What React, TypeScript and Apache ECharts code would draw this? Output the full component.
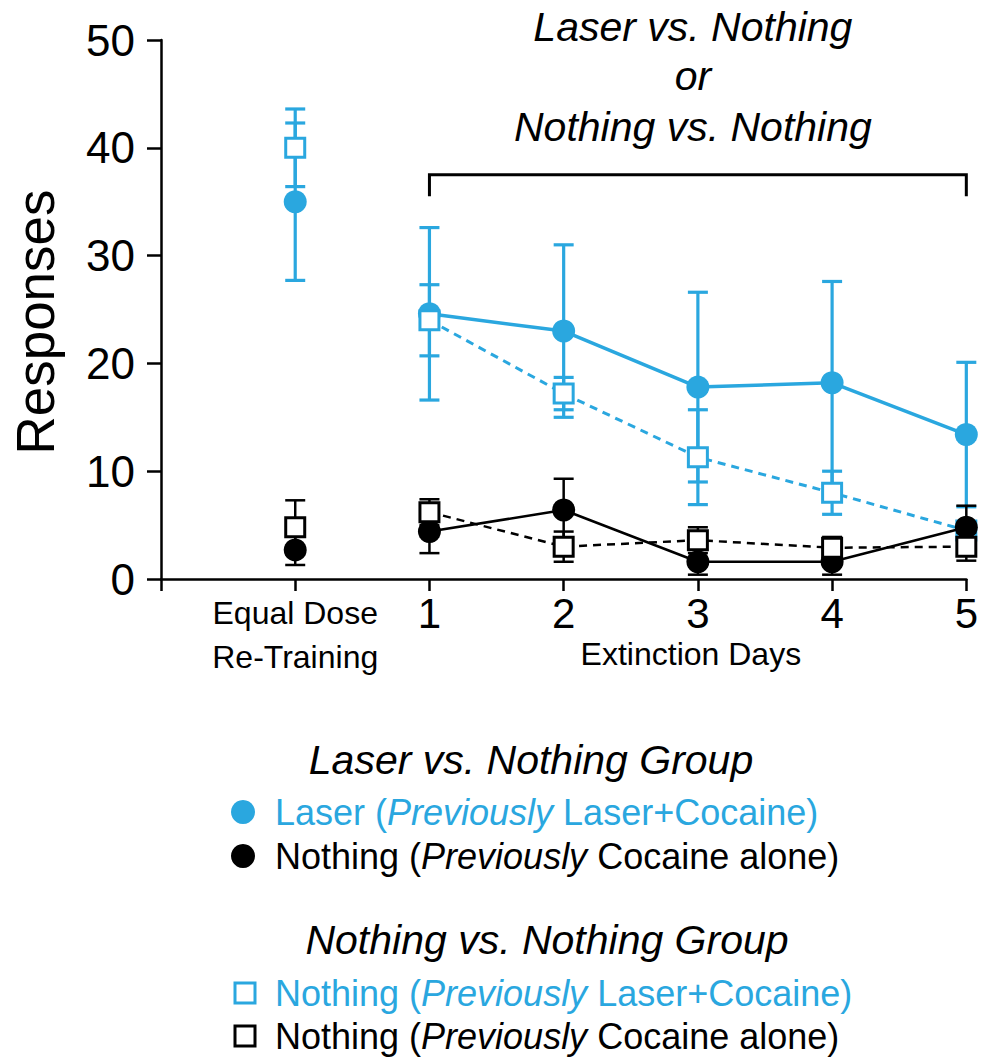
import React, { useEffect, useRef } from "react";
import * as echarts from "echarts";

// ---- data ----
const xPositions = [1, 2, 3, 4, 5, 6];
const xTickLabels = ["Equal Dose\nRe-Training", "1", "2", "3", "4", "5"];

// Laser vs. Nothing group
const laserMean = [35.0, 24.6, 23.0, 17.8, 18.2, 13.4];
const laserSem = [7.3, 8.0, 8.0, 8.8, 9.4, 6.7];
const nothingCocMean = [2.7, 4.4, 6.4, 1.6, 1.6, 4.8];
const nothingCocSem = [1.4, 2.0, 2.9, 1.2, 1.2, 2.0];

// Nothing vs. Nothing group
const nvnLaserMean = [40.0, 24.0, 17.2, 11.3, 8.0, 4.5];
const nvnLaserSem = [3.6, 3.3, 1.5, 4.4, 2.0, 0.8];
const nvnCocMean = [4.8, 6.2, 3.0, 3.6, 2.9, 3.0];
const nvnCocSem = [2.5, 1.2, 1.4, 1.2, 1.0, 1.3];

const titleLines = ["Laser vs. Nothing", "or", "Nothing vs. Nothing"];
const xAxisName = "Extinction Days";
const yAxisName = "Responses";

const BLUE = "#2AA7DF";
const BLACK = "#000000";
const FONT = "Liberation Sans";

function errorSeries(mean: number[], sem: number[], color: string, width: number, z: number) {
  return {
    type: "custom",
    z,
    silent: true,
    clip: false,
    encode: { x: 0, y: [1, 2] },
    data: xPositions.map((x, i) => [x, mean[i] - sem[i], mean[i] + sem[i]]),
    renderItem: (params: any, api: any) => {
      const x = api.value(0);
      const lo = api.coord([x, api.value(1)]);
      const hi = api.coord([x, api.value(2)]);
      const hw = 10;
      const style = { stroke: color, lineWidth: width, fill: "none" };
      return {
        type: "group",
        children: [
          { type: "line", shape: { x1: lo[0], y1: lo[1], x2: hi[0], y2: hi[1] }, style },
          { type: "line", shape: { x1: lo[0] - hw, y1: lo[1], x2: lo[0] + hw, y2: lo[1] }, style },
          { type: "line", shape: { x1: hi[0] - hw, y1: hi[1], x2: hi[0] + hw, y2: hi[1] }, style },
        ],
      };
    },
  };
}

function lineSeries(
  mean: number[],
  color: string,
  filled: boolean,
  dashed: boolean,
  lineWidth: number,
  z: number
) {
  const symbol = filled ? "circle" : "rect";
  const size = filled ? 23 : 19;
  const itemStyle = filled
    ? { color, opacity: 1 }
    : { color: "#ffffff", borderColor: color, borderWidth: 3, opacity: 1 };
  return [
    {
      type: "line",
      z,
      silent: true,
      data: xPositions.slice(1).map((x, i) => [x, mean[i + 1]]),
      symbol,
      symbolSize: size,
      showSymbol: true,
      itemStyle,
      lineStyle: { color, width: lineWidth, type: dashed ? [8, 6] : "solid" },
    },
    {
      type: "scatter",
      z,
      silent: true,
      data: [[xPositions[0], mean[0]]],
      symbol,
      symbolSize: size,
      itemStyle,
    },
  ];
}

export default function App() {
  const ref = useRef<HTMLDivElement>(null);

  useEffect(() => {
    if (!ref.current) return;
    const chart = echarts.init(ref.current, null, { renderer: "svg" });

    const option: any = {
      animation: false,
      textStyle: { fontFamily: FONT },
      grid: { left: 161, right: 14, top: 40, bottom: 480, containLabel: false },
      xAxis: {
        type: "value",
        min: 0,
        max: 6,
        interval: 1,
        splitLine: { show: false },
        axisLine: { lineStyle: { color: BLACK, width: 2.5 } },
        axisTick: { length: 12, lineStyle: { color: BLACK, width: 2.5 } },
        axisLabel: {
          margin: 12,
          color: BLACK,
          formatter: (v: number) => {
            const i = xPositions.indexOf(v);
            if (i < 0) return "";
            if (i === 0)
              return xTickLabels[0]
                .split("\n")
                .map((s) => `{s|${s}}`)
                .join("\n");
            return `{n|${xTickLabels[i]}}`;
          },
          rich: {
            s: { fontSize: 32, lineHeight: 44, fontFamily: FONT, color: BLACK },
            n: { fontSize: 42, lineHeight: 44, fontFamily: FONT, color: BLACK },
          },
        },
      },
      yAxis: {
        type: "value",
        min: 0,
        max: 50,
        interval: 10,
        splitLine: { show: false },
        axisLine: { show: true, lineStyle: { color: BLACK, width: 2.5 } },
        axisTick: { show: true, length: 14, lineStyle: { color: BLACK, width: 2.5 } },
        axisLabel: { margin: 26, fontSize: 44, color: BLACK, fontFamily: FONT },
      },
      series: [
        errorSeries(laserMean, laserSem, BLUE, 3.2, 1),
        errorSeries(nvnLaserMean, nvnLaserSem, BLUE, 3.2, 1),
        ...lineSeries(laserMean, BLUE, true, false, 3.5, 2),
        ...lineSeries(nvnLaserMean, BLUE, false, true, 3, 3),
        errorSeries(nothingCocMean, nothingCocSem, BLACK, 2.5, 4),
        errorSeries(nvnCocMean, nvnCocSem, BLACK, 2.5, 4),
        ...lineSeries(nothingCocMean, BLACK, true, false, 2.5, 5),
        ...lineSeries(nvnCocMean, BLACK, false, true, 2.5, 6),
      ],
    };
    chart.setOption(option);

    const p1 = chart.convertToPixel({ gridIndex: 0 }, [xPositions[1], 37.5]);
    const p5 = chart.convertToPixel({ gridIndex: 0 }, [xPositions[5], 35.5]);
    const bracketTop = p1[1];
    const bracketBottom = p5[1];
    const midX = (p1[0] + p5[0]) / 2;

    const txt = (
      x: number,
      y: number,
      text: string,
      fontSize: number,
      align: string,
      extra: any = {}
    ) => ({
      type: "text",
      x,
      y,
      silent: true,
      style: {
        text,
        fontSize,
        fontFamily: FONT,
        fill: BLACK,
        align,
        verticalAlign: "middle",
        textAlign: align,
        textVerticalAlign: "middle",
        ...extra,
      },
    });

    const legendItem = (y: number, color: string, main: string, rest: string) => ({
      type: "text",
      x: 275,
      y,
      silent: true,
      style: {
        text: `{a|${main} (}{i|Previously}{a| ${rest})}`,
        align: "left",
        verticalAlign: "middle",
        textAlign: "left",
        textVerticalAlign: "middle",
        rich: {
          a: { fontSize: 36, fontFamily: FONT, fill: color },
          i: { fontSize: 36, fontFamily: FONT, fill: color, fontStyle: "italic" },
        },
      },
    });

    const graphic: any[] = [
      // title
      txt(midX - 5, 27, titleLines[0], 41, "center", { fontStyle: "italic" }),
      txt(midX - 5, 76, titleLines[1], 41, "center", { fontStyle: "italic" }),
      txt(midX - 5, 127, titleLines[2], 41, "center", { fontStyle: "italic" }),
      // bracket
      {
        type: "polyline",
        silent: true,
        shape: {
          points: [
            [p1[0], bracketBottom],
            [p1[0], bracketTop],
            [p5[0], bracketTop],
            [p5[0], bracketBottom],
          ],
        },
        style: { stroke: BLACK, lineWidth: 3, fill: "none" },
      },
      // axis names
      txt(midX - 7, 654, xAxisName, 32, "center"),
      {
        type: "text",
        x: 35,
        y: 322,
        rotation: Math.PI / 2,
        silent: true,
        style: {
          text: yAxisName,
          fontSize: 53,
          fontFamily: FONT,
          fill: BLACK,
          align: "center",
          verticalAlign: "middle",
          textAlign: "center",
          textVerticalAlign: "middle",
        },
      },
      // legend
      txt(531, 760, "Laser vs. Nothing Group", 41, "center", { fontStyle: "italic" }),
      { type: "circle", silent: true, shape: { cx: 243, cy: 812, r: 12 }, style: { fill: BLUE } },
      legendItem(812, BLUE, "Laser", "Laser+Cocaine"),
      { type: "circle", silent: true, shape: { cx: 243, cy: 856, r: 12 }, style: { fill: BLACK } },
      legendItem(856, BLACK, "Nothing", "Cocaine alone"),
      txt(547, 940, "Nothing vs. Nothing Group", 41, "center", { fontStyle: "italic" }),
      {
        type: "rect",
        silent: true,
        shape: { x: 235, y: 983, width: 20, height: 20 },
        style: { fill: "#ffffff", stroke: BLUE, lineWidth: 3 },
      },
      legendItem(993, BLUE, "Nothing", "Laser+Cocaine"),
      {
        type: "rect",
        silent: true,
        shape: { x: 235, y: 1026, width: 20, height: 20 },
        style: { fill: "#ffffff", stroke: BLACK, lineWidth: 3 },
      },
      legendItem(1036, BLACK, "Nothing", "Cocaine alone"),
    ];
    chart.setOption({ graphic });

    return () => chart.dispose();
  }, []);

  return (
    <div
      ref={ref}
      style={{ position: "absolute", left: 0, top: 0, width: 981, height: 1059, background: "#fff" }}
    />
  );
}
